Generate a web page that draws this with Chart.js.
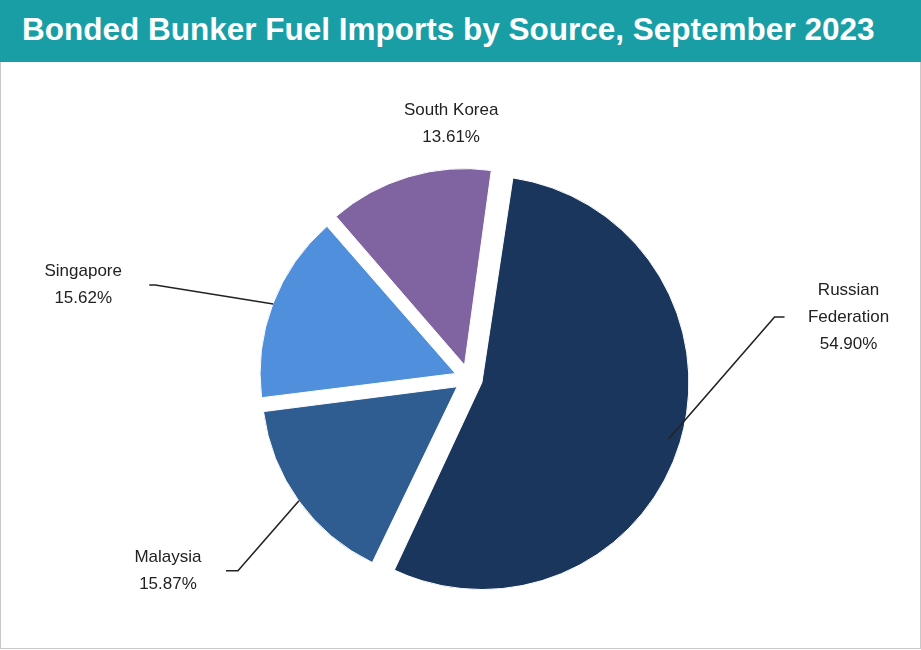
<!DOCTYPE html>
<html>
<head>
<meta charset="utf-8">
<script src="https://cdn.jsdelivr.net/npm/chart.js@4"></script>
<style>
  body { margin: 0; background: #fff; font-family: "Liberation Sans", Arial, sans-serif; }
  #title { width: 921px; height: 62px; background: #1a9ea6; color: #fff; font-weight: bold;
           font-size: 31.5px; line-height: 58px; padding-left: 22px; box-sizing: border-box; white-space: nowrap; }
  #wrap { width: 919px; height: 586px; border: 1px solid #c8c8c8; border-top: none; }
</style>
</head>
<body>
<div id="title">Bonded Bunker Fuel Imports by Source, September 2023</div>
<div id="wrap"><canvas id="c" width="919" height="586"></canvas></div>
<script>
const sources = ['Russian Federation', 'Malaysia', 'Singapore', 'South Korea'];
const shares = [54.90, 15.87, 15.62, 13.61];
const labelLines = [['Russian', 'Federation'], ['Malaysia'], ['Singapore'], ['South Korea']];
const colors = ['#1b365d', '#305d91', '#4f8fdc', '#8064a2'];

// leader geometry per slice: elbow offset from edge, horizontal run, text offset from line end
const leaders = [
  { ex: 106, ey: -122, hx: 10, tx: 64, ty: 0 },
  { ex: -61, ey: 70, hx: -12, tx: -58, ty: 0 },
  { ex: -118, ey: -19, hx: -6, tx: -66, ty: 0 },
  { ex: 0, ey: 0, hx: 0, tx: 42, ty: -54, noLine: true }
];

const labelPlugin = {
  id: 'leaderLabels',
  afterDatasetsDraw(chart) {
    const ctx = chart.ctx;
    const meta = chart.getDatasetMeta(0);
    ctx.save();
    ctx.font = '17px "Liberation Sans", Arial, sans-serif';
    ctx.fillStyle = '#222';
    ctx.textAlign = 'center';
    ctx.textBaseline = 'middle';
    meta.data.forEach((arc, i) => {
      const p = arc.getProps(['x', 'y', 'startAngle', 'endAngle', 'outerRadius'], true);
      const mid = (p.startAngle + p.endAngle) / 2;
      const off = 14;
      const sx = p.x + Math.cos(mid) * (p.outerRadius + off + 2);
      const sy = p.y + Math.sin(mid) * (p.outerRadius + off + 2);
      const L = leaders[i];
      const bx = sx + L.ex, by = sy + L.ey;
      const endx = bx + L.hx;
      if (!L.noLine) {
        ctx.strokeStyle = '#222';
        ctx.lineWidth = 1.6;
        ctx.beginPath();
        ctx.moveTo(sx, sy); ctx.lineTo(bx, by); ctx.lineTo(endx, by);
        ctx.stroke();
      }
      const lines = labelLines[i].concat([shares[i].toFixed(2) + '%']);
      const cx = endx + L.tx, cy = by + L.ty;
      const lh = 27;
      lines.forEach((t, k) => {
        ctx.fillText(t, cx, cy + (k - (lines.length - 1) / 2) * lh);
      });
    });
    ctx.restore();
  }
};

new Chart(document.getElementById('c'), {
  type: 'pie',
  data: {
    labels: sources,
    datasets: [{
      data: shares,
      backgroundColor: colors,
      borderColor: '#fff',
      borderWidth: 1,
      offset: 56,
      hoverOffset: 56
    }]
  },
  options: {
    responsive: false,
    animation: false,
    rotation: 8,
    layout: { padding: { top: 95, bottom: 48, left: 246, right: 230 } },
    plugins: { legend: { display: false }, tooltip: { enabled: false } }
  },
  plugins: [labelPlugin]
});
</script>
</body>
</html>
